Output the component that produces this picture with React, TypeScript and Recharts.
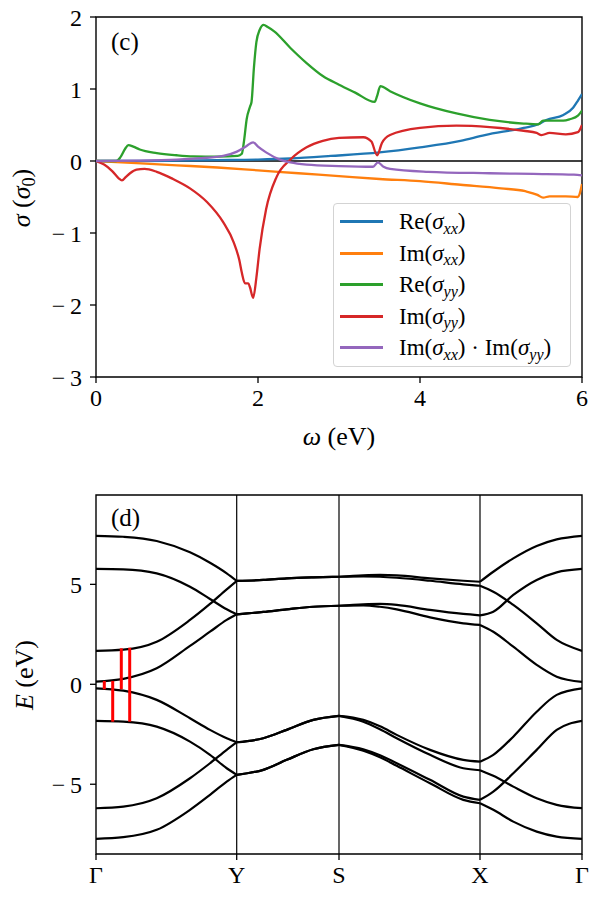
import React from "react";
import { LineChart, Line, XAxis, YAxis, ReferenceLine, ReferenceArea } from "recharts";

// ---- panel (c): optical conductivity, [omega (eV), sigma (sigma_0)] ----
const reSxx: number[][] = [
  [0, 0], [0.5, 0], [1.0, 0.005], [1.5, 0.012], [2.0, 0.02], [2.4, 0.035], [2.9, 0.07], [3.5, 0.12],
  [4.0, 0.19], [4.5, 0.28], [4.8, 0.36], [5.28, 0.46], [5.46, 0.51], [5.56, 0.57], [5.77, 0.64],
  [5.89, 0.74], [5.95, 0.84], [6.0, 0.93],
];
const imSxx: number[][] = [
  [0, 0], [0.5, -0.03], [1.0, -0.06], [1.5, -0.09], [2.0, -0.13], [2.5, -0.17], [3.0, -0.21],
  [3.5, -0.25], [4.0, -0.28], [4.5, -0.33], [5.0, -0.38], [5.3, -0.42], [5.45, -0.47], [5.52, -0.51],
  [5.6, -0.49], [5.8, -0.49], [5.95, -0.5], [5.97, -0.46], [6.0, -0.32],
];
const reSyy: number[][] = [
  [0, 0], [0.25, 0], [0.3, 0.05], [0.36, 0.17], [0.4, 0.22], [0.46, 0.2], [0.54, 0.16], [0.75, 0.11],
  [1.0, 0.08], [1.2, 0.065], [1.5, 0.06], [1.75, 0.07], [1.8, 0.1], [1.83, 0.3], [1.86, 0.58],
  [1.9, 0.75], [1.92, 0.82], [1.95, 1.3], [1.98, 1.65], [2.02, 1.82], [2.07, 1.89], [2.12, 1.86],
  [2.2, 1.8], [2.4, 1.57], [2.6, 1.36], [2.8, 1.18], [3.0, 1.06], [3.2, 0.95], [3.44, 0.82],
  [3.47, 0.9], [3.51, 1.04], [3.63, 0.97], [4.0, 0.8], [4.45, 0.66], [4.86, 0.57], [5.28, 0.52],
  [5.46, 0.51], [5.52, 0.56], [5.77, 0.56], [5.85, 0.58], [5.95, 0.63], [6.0, 0.7],
];
const imSyy: number[][] = [
  [0, 0], [0.1, -0.05], [0.2, -0.14], [0.28, -0.24], [0.32, -0.27], [0.37, -0.22], [0.42, -0.17],
  [0.5, -0.12], [0.6, -0.11], [0.75, -0.15], [0.95, -0.25], [1.16, -0.38], [1.37, -0.57],
  [1.57, -0.85], [1.7, -1.13], [1.77, -1.38], [1.8, -1.55], [1.84, -1.7], [1.88, -1.7], [1.9, -1.75],
  [1.94, -1.9], [1.98, -1.62], [2.02, -1.22], [2.1, -0.67], [2.23, -0.22], [2.4, 0.02], [2.6, 0.19],
  [2.8, 0.28], [3.0, 0.32], [3.3, 0.33], [3.4, 0.27], [3.47, 0.08], [3.53, 0.25], [3.63, 0.36],
  [4.0, 0.46], [4.45, 0.49], [4.86, 0.47], [5.28, 0.42], [5.44, 0.39], [5.5, 0.36], [5.6, 0.39],
  [5.8, 0.37], [5.95, 0.4], [6.0, 0.5],
];
const imProd: number[][] = [
  [0, 0], [0.5, 0.005], [1.0, 0.02], [1.3, 0.04], [1.57, 0.07], [1.74, 0.13], [1.86, 0.21],
  [1.94, 0.26], [2.0, 0.2], [2.1, 0.12], [2.27, 0.02], [2.4, -0.02], [2.6, -0.05], [3.0, -0.07],
  [3.42, -0.08], [3.48, -0.02], [3.55, -0.08], [3.63, -0.11], [4.1, -0.15], [4.86, -0.17],
  [5.4, -0.18], [5.9, -0.19], [6.0, -0.2],
];
const sigmaTicks = [-3, -2, -1, 0, 1, 2];
const omegaTicks = [0, 2, 4, 6];

// ---- panel (d): band structure along Γ-Y-S-X-Γ ----
const kLabels = ["Γ", "Y", "S", "X", "Γ"];
const kPoints = [0, 1.407, 2.43, 3.84, 4.86];
const kGY = [0, 0.273, 0.607, 0.94, 1.14, 1.307, 1.407];
const kYS = [1.407, 1.673, 1.907, 2.173, 2.43];
const kSX = [2.43, 2.673, 2.84, 3.007, 3.34, 3.673, 3.84];
const kXG = [3.84, 3.973, 4.173, 4.407, 4.607, 4.86];
// each band: energies on [Γ-Y, Y-S, S-X, X-Γ]
const u1 = [[7.43, 7.38, 7.17, 6.6, 6.08, 5.55, 5.17], [5.17, 5.22, 5.3, 5.35, 5.38], [5.38, 5.45, 5.47, 5.45, 5.3, 5.18, 5.13], [5.13, 5.63, 6.3, 6.92, 7.25, 7.43]];
const u2 = [[1.67, 1.73, 2.13, 3.22, 4.02, 4.75, 5.17], [5.17, 5.22, 5.3, 5.35, 5.38], [5.38, 5.4, 5.38, 5.33, 5.18, 5.0, 4.93], [4.93, 4.63, 3.97, 3.05, 2.22, 1.67]];
const u3 = [[5.77, 5.75, 5.55, 4.88, 4.27, 3.75, 3.5], [3.5, 3.62, 3.75, 3.88, 3.93], [3.93, 4.0, 4.02, 3.97, 3.72, 3.52, 3.45], [3.45, 3.63, 4.47, 5.22, 5.6, 5.77]];
const u4 = [[0.13, 0.27, 0.8, 1.92, 2.63, 3.22, 3.5], [3.5, 3.62, 3.75, 3.88, 3.93], [3.93, 3.95, 3.88, 3.75, 3.35, 3.05, 2.97], [2.97, 2.63, 1.88, 0.97, 0.38, 0.12]];
const l1 = [[-0.2, -0.32, -0.78, -1.7, -2.28, -2.7, -2.9], [-2.9, -2.7, -2.28, -1.78, -1.58], [-1.58, -1.78, -2.1, -2.53, -3.28, -3.78, -3.87], [-3.87, -3.53, -2.62, -1.37, -0.53, -0.2]];
const l2 = [[-6.2, -6.12, -5.7, -4.7, -3.95, -3.28, -2.9], [-2.9, -2.7, -2.28, -1.78, -1.58], [-1.58, -1.87, -2.25, -2.7, -3.53, -4.2, -4.3], [-4.3, -4.58, -5.12, -5.7, -6.03, -6.2]];
const l3 = [[-1.83, -1.87, -2.12, -2.87, -3.53, -4.2, -4.53], [-4.53, -4.28, -3.78, -3.25, -3.03], [-3.03, -3.25, -3.55, -3.95, -4.78, -5.62, -5.78], [-5.78, -5.37, -4.45, -3.28, -2.28, -1.83]];
const l4 = [[-7.73, -7.65, -7.28, -6.28, -5.53, -4.87, -4.53], [-4.53, -4.28, -3.78, -3.25, -3.03], [-3.03, -3.32, -3.65, -4.08, -4.95, -5.78, -5.95], [-5.95, -6.28, -6.87, -7.37, -7.62, -7.73]];
// optical transitions at Γ: [k, E upper, E lower]
const transitions = [[0.083, 0.17, -0.25], [0.167, 0.17, -1.87], [0.253, 1.8, -0.25], [0.337, 1.83, -1.87]];
const energyTicks = [-5, 0, 5];

const FONT = '"Liberation Serif", "DejaVu Serif", serif';
const fmt = (v: number) => (v < 0 ? "\u2212\u2009" + Math.abs(v) : String(v));
const kFmt = (v: number) => kLabels[kPoints.indexOf(v)] ?? "";
const pts = (arr: number[][]) => arr.map(([x, y]) => ({ x, y }));

// tick labels styled through css so the serif face and size always apply
const css = `
.plot .recharts-cartesian-axis-tick-value { font-family: ${FONT}; font-size: 24px; fill: #000; }
`;
const tickLine = { stroke: "#000", strokeWidth: 1.3 };

function Sub({ children }: { children: React.ReactNode }) {
  return <span style={{ fontSize: "0.7em", fontStyle: "italic", position: "relative", top: "0.3em" }}>{children}</span>;
}

const series = [
  { data: reSxx, color: "#1f77b4", label: <>Re(<i>σ</i><Sub>xx</Sub>)</> },
  { data: imSxx, color: "#ff7f0e", label: <>Im(<i>σ</i><Sub>xx</Sub>)</> },
  { data: reSyy, color: "#2ca02c", label: <>Re(<i>σ</i><Sub>yy</Sub>)</> },
  { data: imSyy, color: "#d62728", label: <>Im(<i>σ</i><Sub>yy</Sub>)</> },
  { data: imProd, color: "#9467bd", label: <>Im(<i>σ</i><Sub>xx</Sub>) · Im(<i>σ</i><Sub>yy</Sub>)</> },
];

const textBox = (style: React.CSSProperties): React.CSSProperties => ({
  position: "absolute", fontFamily: FONT, fontSize: 26, color: "#000", whiteSpace: "nowrap", lineHeight: 1, ...style,
});

function ConductivityPanel() {
  return (
    <div className="plot" style={{ position: "absolute", left: 0, top: 0, width: 600, height: 460, fontFamily: FONT }}>
      <LineChart width={600} height={460} margin={{ top: 17, right: 18, bottom: 53, left: 36 }}>
        <XAxis dataKey="x" type="number" domain={[0, 6]} ticks={omegaTicks} tickFormatter={fmt}
          tickLine={tickLine} tickSize={6} tickMargin={6} axisLine={false} height={30} allowDataOverflow />
        <YAxis type="number" domain={[-3, 2]} ticks={sigmaTicks} tickFormatter={fmt}
          tickLine={tickLine} tickSize={6} tickMargin={8} axisLine={false} width={60} allowDataOverflow />
        <ReferenceLine y={0} stroke="#000" strokeWidth={1.3} />
        {series.map((s, i) => (
          <Line key={i} data={pts(s.data)} dataKey="y" type="monotone" stroke={s.color}
            strokeWidth={2.3} dot={false} isAnimationActive={false} />
        ))}
        <ReferenceArea x1={0} x2={6} y1={-3} y2={2} fill="none" stroke="#000" strokeWidth={1.4} />
      </LineChart>
      <div style={textBox({ left: 111, top: 29, fontSize: 25 })}>(c)</div>
      <div style={textBox({ left: 22, top: 198, transform: "translate(-50%, -50%) rotate(-90deg)" })}>
        <i>σ</i>&nbsp;(<i>σ</i><span style={{ fontSize: "0.7em", position: "relative", top: "0.3em" }}>0</span>)
      </div>
      <div style={textBox({ left: 339, top: 437, transform: "translate(-50%, -50%)" })}>
        <i>ω</i>&nbsp;(eV)
      </div>
      <div style={{
        position: "absolute", left: 333, top: 203, width: 238, height: 164, boxSizing: "border-box",
        border: "1px solid #d3d3d3", borderRadius: 4, background: "rgba(255,255,255,0.85)", paddingTop: 2,
      }}>
        {series.map((s, i) => (
          <div key={i} style={{ display: "flex", alignItems: "center", height: 31, marginBottom: i < 4 ? 0.5 : 0 }}>
            <div style={{ width: 43, height: 3, background: s.color, marginLeft: 6, flexShrink: 0 }} />
            <div style={{ marginLeft: 16, fontFamily: FONT, fontSize: 23, lineHeight: 1, whiteSpace: "nowrap" }}>{s.label}</div>
          </div>
        ))}
      </div>
    </div>
  );
}

function BandPanel() {
  const bands = [u1, u2, u3, u4, l1, l2, l3, l4];
  const ks = [kGY, kYS, kSX, kXG];
  return (
    <div className="plot" style={{ position: "absolute", left: 0, top: 460, width: 600, height: 440, fontFamily: FONT }}>
      <LineChart width={600} height={440} margin={{ top: 35, right: 18, bottom: 16, left: 36 }}>
        <XAxis dataKey="k" type="number" domain={[0, 4.86]} ticks={kPoints} tickFormatter={kFmt}
          tickLine={tickLine} tickSize={6} tickMargin={6} axisLine={false} height={30} allowDataOverflow />
        <YAxis type="number" domain={[-8.49, 9.47]} ticks={energyTicks} tickFormatter={fmt}
          tickLine={tickLine} tickSize={6} tickMargin={8} axisLine={false} width={60} allowDataOverflow />
        {kPoints.slice(1, 4).map((k) => (
          <ReferenceLine key={k} x={k} stroke="#000" strokeWidth={1.2} />
        ))}
        {bands.flatMap((b, bi) =>
          b.map((seg, si) => (
            <Line key={`${bi}-${si}`} data={seg.map((e, j) => ({ k: ks[si][j], e }))} dataKey="e"
              type="monotone" stroke="#000" strokeWidth={2.2} dot={false} isAnimationActive={false} />
          ))
        )}
        {transitions.map(([k, hi, lo], i) => (
          <Line key={`t${i}`} data={[{ k, e: hi }, { k, e: lo }]} dataKey="e" type="linear"
            stroke="#ff0000" strokeWidth={3} dot={false} isAnimationActive={false} />
        ))}
        <ReferenceArea x1={0} x2={4.86} y1={-8.49} y2={9.47} fill="none" stroke="#000" strokeWidth={1.4} />
      </LineChart>
      <div style={textBox({ left: 111, top: 45, fontSize: 25 })}>(d)</div>
      <div style={textBox({ left: 25, top: 215, transform: "translate(-50%, -50%) rotate(-90deg)" })}>
        <i>E</i>&nbsp;(eV)
      </div>
    </div>
  );
}

export default function App() {
  return (
    <div style={{ position: "absolute", left: 0, top: 0, width: 600, height: 900, background: "#fff" }}>
      <style>{css}</style>
      <ConductivityPanel />
      <BandPanel />
    </div>
  );
}
